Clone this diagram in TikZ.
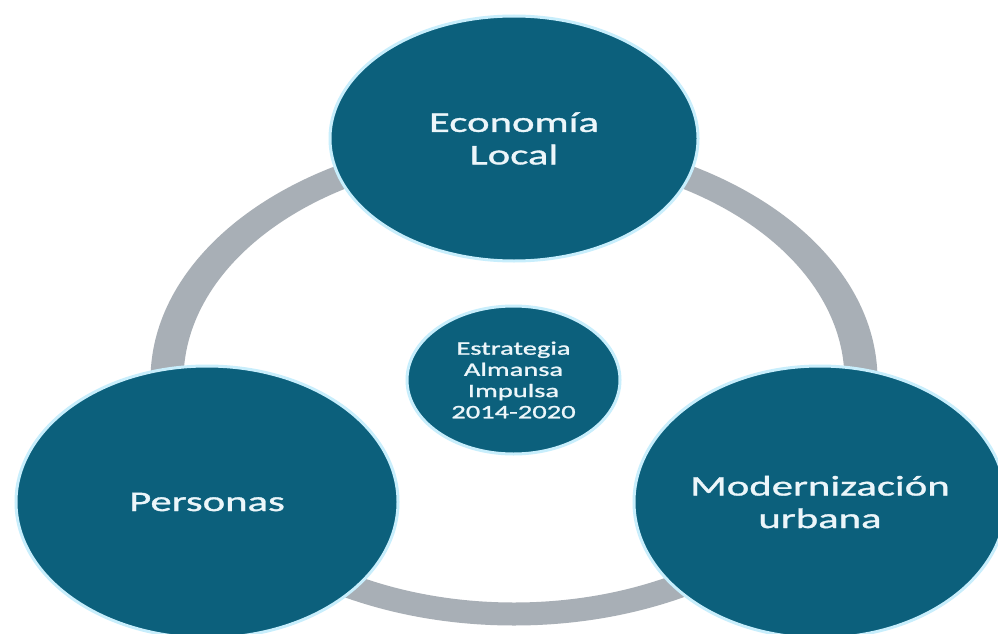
\documentclass[tikz,border=0pt]{standalone}
\usepackage{fontspec}
\setmainfont{Carlito}[FakeStretch=1.5, FakeBold=1.2]
\usetikzlibrary{shapes.geometric}
\definecolor{teal}{RGB}{12,96,124}
\definecolor{ringgray}{RGB}{168,175,182}
\definecolor{glow}{RGB}{200,238,252}
\definecolor{txt}{RGB}{236,246,250}
\tikzset{
  bubble/.style={ellipse, fill=teal, draw=glow, line width=3pt, inner sep=0pt,
    text=txt, align=center},
  bigtext/.style={font=\fontsize{28.5}{32.5}\selectfont},
  smalltext/.style={font=\fontsize{19}{21.2}\selectfont}
}
\begin{document}
\begin{tikzpicture}[x=1pt,y=-1pt]
\useasboundingbox (0,0) rectangle (998,634);
\clip (0,0) rectangle (998,634);
\fill[white] (0,0) rectangle (998,634);
% gray ring
\fill[ringgray, even odd rule]
  (514,380) ellipse [x radius=363.5, y radius=245.5]
  (514,380) ellipse [x radius=330.5, y radius=222.5];
% circles
\node[bubble, bigtext, minimum width=368pt, minimum height=245pt] (eco) at (514,138.5) {Economía\\Local};
\node[bubble, bigtext, minimum width=382pt, minimum height=272pt] (per) at (207,502) {Personas};
\node[bubble, bigtext, minimum width=372pt, minimum height=272pt] (mod) at (820,502) {Modernización\\urbana};
\node[bubble, smalltext, minimum width=213pt, minimum height=148pt] (est) at (513.5,380) {Estrategia\\Almansa\\Impulsa\\2014-2020};
\end{tikzpicture}
\end{document}
